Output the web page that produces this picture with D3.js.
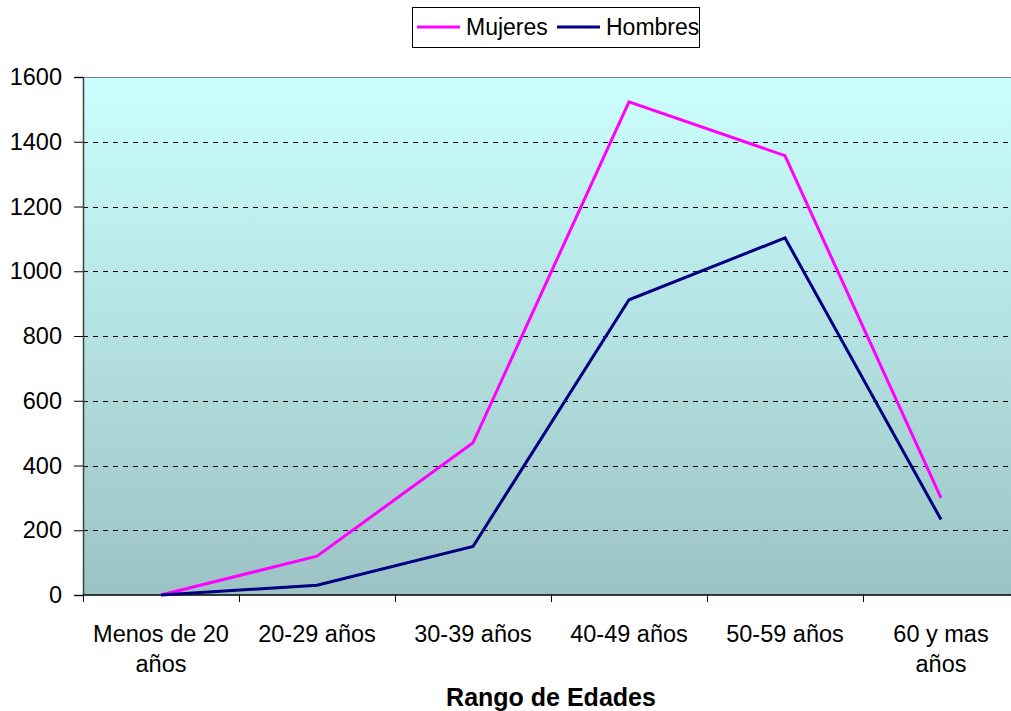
<!DOCTYPE html>
<html>
<head>
<meta charset="utf-8">
<script src="https://cdn.jsdelivr.net/npm/d3@7"></script>
<style>
  html, body { margin: 0; padding: 0; background: #fff; }
  svg { display: block; font-family: "Liberation Sans", Arial, sans-serif; }
</style>
</head>
<body>
<svg id="chart" width="1011" height="711"></svg>
<script>
// Age ranges and counts per sex
const categories = ["Menos de 20 años", "20-29 años", "30-39 años", "40-49 años", "50-59 años", "60 y mas años"];
const categoryLines = [["Menos de 20", "años"], ["20-29 años"], ["30-39 años"], ["40-49 años"], ["50-59 años"], ["60 y mas", "años"]];
const mujeres = [0, 120, 470, 1523, 1357, 300];
const hombres = [0, 30, 150, 912, 1103, 233];
const yTicks = [0, 200, 400, 600, 800, 1000, 1200, 1400, 1600];
const seriesNames = ["Mujeres", "Hombres"];
const seriesColors = ["#FF00FF", "#000080"];

const svg = d3.select("#chart");
const plot = { left: 83, right: 1019, top: 77, bottom: 595 };
const labelSize = 23.5;

const x = d3.scaleBand().domain(categories).range([plot.left, plot.right]).padding(0);
const y = d3.scaleLinear().domain([0, 1600]).range([plot.bottom, plot.top]);

// gradient background of the plot area
const defs = svg.append("defs");
const grad = defs.append("linearGradient").attr("id", "bg").attr("x1", 0).attr("y1", 0).attr("x2", 0).attr("y2", 1);
grad.append("stop").attr("offset", "0%").attr("stop-color", "#CCFFFF");
grad.append("stop").attr("offset", "100%").attr("stop-color", "#9CC3C3");

svg.append("rect")
  .attr("x", plot.left).attr("y", plot.top)
  .attr("width", plot.right - plot.left).attr("height", plot.bottom - plot.top)
  .attr("fill", "url(#bg)");

// top border of plot area
svg.append("line")
  .attr("x1", plot.left).attr("x2", plot.right)
  .attr("y1", plot.top + 0.5).attr("y2", plot.top + 0.5)
  .attr("stroke", "#808080").attr("stroke-width", 1);

// dashed horizontal gridlines
svg.append("g").selectAll("line")
  .data(yTicks.filter(d => d > 0 && d < 1600))
  .join("line")
  .attr("x1", plot.left).attr("x2", plot.right)
  .attr("y1", d => Math.round(y(d)) + 0.5).attr("y2", d => Math.round(y(d)) + 0.5)
  .attr("stroke", "#000").attr("stroke-width", 1)
  .attr("stroke-dasharray", "5,5");

// y axis
const yAxis = svg.append("g")
  .attr("transform", `translate(${plot.left},0)`)
  .call(d3.axisLeft(y).tickValues(yTicks).tickSize(9).tickPadding(12).tickFormat(d3.format("d")));
yAxis.select(".domain").attr("stroke", "#404040").attr("stroke-width", 1.5);
yAxis.selectAll(".tick line").attr("stroke", "#000");
yAxis.selectAll(".tick text")
  .attr("font-size", labelSize).attr("fill", "#000")
  .attr("font-family", "'Liberation Sans', Arial, sans-serif");

// x axis with ticks at band boundaries
const xAxisG = svg.append("g");
xAxisG.append("line")
  .attr("x1", plot.left).attr("x2", plot.right)
  .attr("y1", plot.bottom).attr("y2", plot.bottom)
  .attr("stroke", "#000").attr("stroke-width", 1.5);
xAxisG.selectAll("line.tk")
  .data(categories)
  .join("line").attr("class", "tk")
  .attr("x1", d => Math.round(x(d)) + 0.5).attr("x2", d => Math.round(x(d)) + 0.5)
  .attr("y1", plot.bottom).attr("y2", plot.bottom + 7)
  .attr("stroke", "#000");

// category labels
const labels = xAxisG.selectAll("text.cat")
  .data(categories)
  .join("text").attr("class", "cat")
  .attr("x", d => x(d) + x.bandwidth() / 2)
  .attr("y", 642)
  .attr("text-anchor", "middle")
  .attr("font-size", labelSize).attr("fill", "#000");
labels.each(function(d, i) {
  const t = d3.select(this);
  categoryLines[i].forEach((ln, j) => {
    t.append("tspan")
      .attr("x", x(d) + x.bandwidth() / 2)
      .attr("dy", j === 0 ? 0 : 30)
      .text(ln);
  });
});

// axis title
svg.append("text")
  .attr("x", 551).attr("y", 706)
  .attr("text-anchor", "middle")
  .attr("font-size", 25).attr("font-weight", "bold").attr("fill", "#000")
  .text("Rango de Edades");

// lines
const line = d3.line()
  .x((d, i) => x(categories[i]) + x.bandwidth() / 2)
  .y(d => y(d));

[mujeres, hombres].forEach((vals, k) => {
  svg.append("path")
    .datum(vals)
    .attr("d", line)
    .attr("fill", "none")
    .attr("stroke", seriesColors[k])
    .attr("stroke-width", 3)
    .attr("stroke-linejoin", "miter");
});

// legend
const legend = svg.append("g");
legend.append("rect")
  .attr("x", 412.5).attr("y", 7.5).attr("width", 287).attr("height", 40)
  .attr("fill", "#fff").attr("stroke", "#000").attr("stroke-width", 1);
const legendItems = [{ x: 417 }, { x: 557 }];
legendItems.forEach((it, k) => {
  legend.append("line")
    .attr("x1", it.x).attr("x2", it.x + 43)
    .attr("y1", 27).attr("y2", 27)
    .attr("stroke", seriesColors[k]).attr("stroke-width", 3);
  legend.append("text")
    .attr("x", it.x + 49).attr("y", 35)
    .attr("font-size", 23).attr("fill", "#000")
    .text(seriesNames[k]);
});
</script>
</body>
</html>
